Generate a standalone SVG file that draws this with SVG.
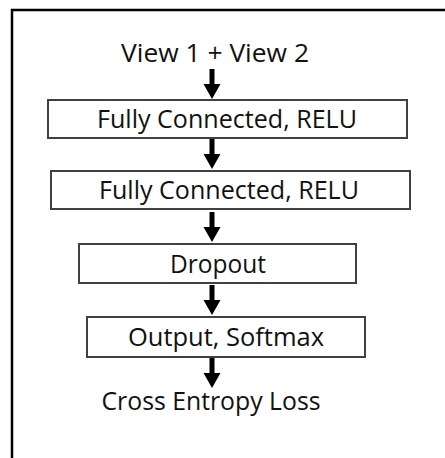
<svg xmlns="http://www.w3.org/2000/svg" width="445" height="458" viewBox="0 0 445 458">
<style>
.box{fill:#fff;stroke:#404040;stroke-width:2}
.t{font-family:"Open Sans","Liberation Sans",sans-serif;font-size:25px;fill:#111;text-anchor:middle}
.arr{fill:#000}
</style>
<defs>
<path id="a" d="M-2.5,0 H2.5 V15 H8.5 L0,30 L-8.5,15 H-2.5 Z"/>
</defs>
<rect width="445" height="458" fill="#fff"/>
<path d="M12,458 V10 H445" fill="none" stroke="#000" stroke-width="2.5"/>
<g id="input"><text class="t" x="215" y="62" textLength="188" lengthAdjust="spacingAndGlyphs">View 1 + View 2</text></g>
<g id="fc1"><rect class="box" x="48" y="100" width="359" height="38"/><text class="t" x="227" y="127.5" textLength="260" lengthAdjust="spacingAndGlyphs">Fully Connected, RELU</text></g>
<g id="fc2"><rect class="box" x="51" y="171" width="359" height="38"/><text class="t" x="229" y="198.5" textLength="260" lengthAdjust="spacingAndGlyphs">Fully Connected, RELU</text></g>
<g id="dropout"><rect class="box" x="79" y="244" width="277" height="39"/><text class="t" x="218" y="272.5" textLength="96" lengthAdjust="spacingAndGlyphs">Dropout</text></g>
<g id="output"><rect class="box" x="87" y="317" width="278" height="40"/><text class="t" x="226" y="345.5" textLength="196" lengthAdjust="spacingAndGlyphs">Output, Softmax</text></g>
<g id="loss"><text class="t" x="211" y="410" textLength="219" lengthAdjust="spacingAndGlyphs">Cross Entropy Loss</text></g>
<g id="connectors" class="arr">
<use href="#a" x="212" y="69"/>
<use href="#a" x="212" y="139"/>
<use href="#a" x="212" y="212"/>
<use href="#a" x="212" y="285"/>
<use href="#a" x="212" y="358"/>
</g>
</svg>
